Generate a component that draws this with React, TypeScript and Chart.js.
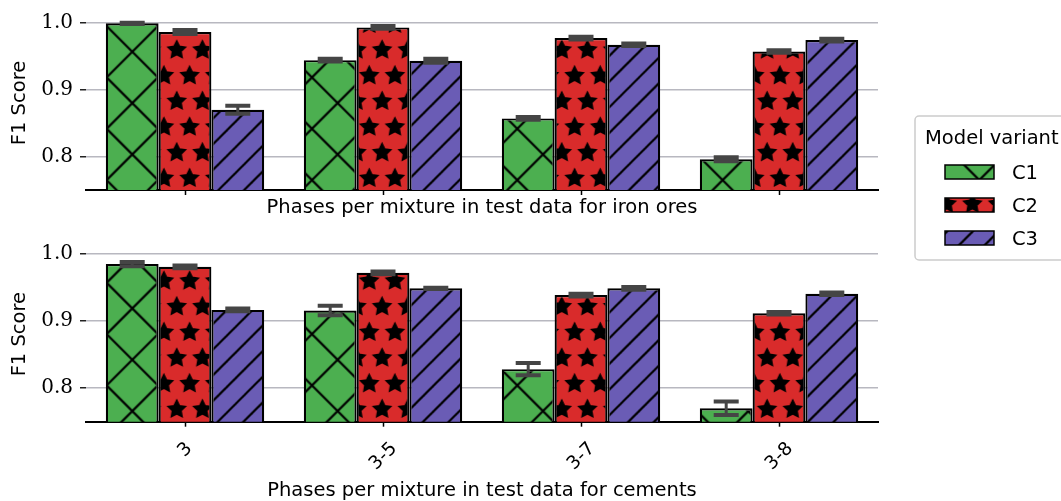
import React, { useEffect, useRef } from 'react';
import { Chart, registerables } from 'chart.js';

Chart.register(...registerables);

// ---------------- data ----------------
const categories = ['3', '3-5', '3-7', '3-8'];
const seriesNames = ['C1', 'C2', 'C3'];

const ironC1 = [0.999, 0.944, 0.857, 0.796];
const ironC1Err = [0.001, 0.002, 0.002, 0.003];
const ironC2 = [0.986, 0.993, 0.977, 0.957];
const ironC2Err = [0.003, 0.002, 0.002, 0.002];
const ironC3 = [0.870, 0.943, 0.967, 0.974];
const ironC3Err = [0.006, 0.003, 0.002, 0.002];

const cementC1 = [0.984, 0.915, 0.828, 0.770];
const cementC1Err = [0.003, 0.007, 0.009, 0.010];
const cementC2 = [0.980, 0.971, 0.938, 0.911];
const cementC2Err = [0.002, 0.002, 0.002, 0.002];
const cementC3 = [0.916, 0.948, 0.948, 0.940];
const cementC3Err = [0.002, 0.001, 0.002, 0.002];

const yTicks = [0.8, 0.9, 1.0];
const yMin = 0.75;
const yMax = 1.01;

const topTitle = 'Phases per mixture in test data for iron ores';
const bottomTitle = 'Phases per mixture in test data for cements';
const yTitle = 'F1 Score';
const legendTitle = 'Model variant';

// ---------------- styles ----------------
const SANS = "'DejaVu Sans', sans-serif";
const SERIF = "'DejaVu Serif', serif";
const GREEN = '#4caf50';
const RED = '#d92b2b';
const PURPLE = '#6a5cb5';
const CELL = 154;
const HATCH_LW = 2.2;

function makeTile(draw: (g: CanvasRenderingContext2D) => void) {
  const c = document.createElement('canvas');
  c.width = CELL;
  c.height = CELL;
  const g = c.getContext('2d') as CanvasRenderingContext2D;
  draw(g);
  return c;
}

function makePatterns(ctx: CanvasRenderingContext2D) {
  const cross = makeTile((g) => {
    g.fillStyle = GREEN;
    g.fillRect(0, 0, CELL, CELL);
    g.strokeStyle = '#000';
    g.lineWidth = HATCH_LW;
    const s = CELL / 3;
    g.beginPath();
    for (let k = -1; k <= 7; k++) {
      const c = k * s;
      g.moveTo(c + 10, -10);
      g.lineTo(c - CELL - 10, CELL + 10);
    }
    for (let k = -4; k <= 4; k++) {
      const c = k * s;
      g.moveTo(-10, c - 10);
      g.lineTo(CELL + 10, c + CELL + 10);
    }
    g.stroke();
  });
  const slash = makeTile((g) => {
    g.fillStyle = PURPLE;
    g.fillRect(0, 0, CELL, CELL);
    g.strokeStyle = '#000';
    g.lineWidth = HATCH_LW;
    const s = CELL / 6;
    g.beginPath();
    for (let k = -1; k <= 13; k++) {
      const c = k * s;
      g.moveTo(c + 10, -10);
      g.lineTo(c - CELL - 10, CELL + 10);
    }
    g.stroke();
  });
  const stars = makeTile((g) => {
    g.fillStyle = RED;
    g.fillRect(0, 0, CELL, CELL);
    g.fillStyle = '#000';
    g.strokeStyle = '#000';
    g.lineWidth = 2;
    g.lineJoin = 'miter';
    const n = 6;
    const s = CELL / n;
    const R = s / 3;
    const r = R * 0.5;
    const star = (cx: number, cy: number) => {
      g.beginPath();
      for (let i = 0; i < 10; i++) {
        const a = -Math.PI / 2 + (i * Math.PI) / 5;
        const rad = i % 2 === 0 ? R : r;
        const px = cx + rad * Math.cos(a);
        const py = cy + rad * Math.sin(a);
        if (i === 0) g.moveTo(px, py);
        else g.lineTo(px, py);
      }
      g.closePath();
      g.fill();
      g.stroke();
    };
    for (let row = 0; row <= n; row++) {
      const y = row * s;
      if (row % 2 === 0) {
        for (let c = 0; c <= n; c++) star(c * s, y);
      } else {
        for (let c = 0; c < n; c++) star(s / 2 + c * s, y);
      }
    }
  });
  const mk = (tile: HTMLCanvasElement, tx: number, ty: number) => {
    const p = ctx.createPattern(tile, 'repeat') as CanvasPattern;
    p.setTransform(new DOMMatrix([1, 0, 0, 1, tx, ty]));
    return p;
  };
  return [mk(cross, 132.3, 51.7), mk(stars, 176.7, 50), mk(slash, 23.5, 0)];
}

const errorBarPlugin = {
  id: 'errorBars',
  afterDatasetsDraw(chart: any) {
    const ctx = chart.ctx as CanvasRenderingContext2D;
    const y = chart.scales.y;
    chart.data.datasets.forEach((ds: any, i: number) => {
      const meta = chart.getDatasetMeta(i);
      meta.data.forEach((bar: any, j: number) => {
        const v = ds.data[j];
        const e = ds.errors[j];
        const yT = y.getPixelForValue(v + e);
        const yB = y.getPixelForValue(v - e);
        ctx.save();
        ctx.strokeStyle = '#454545';
        ctx.lineWidth = 3;
        ctx.beginPath();
        ctx.moveTo(bar.x, yT);
        ctx.lineTo(bar.x, yB);
        ctx.stroke();
        ctx.lineWidth = 4;
        ctx.beginPath();
        ctx.moveTo(bar.x - 12.5, yT);
        ctx.lineTo(bar.x + 12.5, yT);
        ctx.moveTo(bar.x - 12.5, yB);
        ctx.lineTo(bar.x + 12.5, yB);
        ctx.stroke();
        ctx.restore();
      });
    });
  },
};

const rotatedLabelsPlugin = {
  id: 'rotatedLabels',
  afterDraw(chart: any) {
    const ctx = chart.ctx as CanvasRenderingContext2D;
    const xs = chart.scales.x;
    const fs = 18.5;
    ctx.save();
    ctx.font = `${fs}px ${SANS}`;
    ctx.fillStyle = '#000';
    ctx.textAlign = 'center';
    ctx.textBaseline = 'alphabetic';
    categories.forEach((lab, i) => {
      const x = xs.getPixelForTick(i);
      const w = ctx.measureText(lab).width;
      const h = 0.73 * fs;
      const cy = xs.top + 18 + (w + h) / (2 * Math.SQRT2);
      ctx.save();
      ctx.translate(x - 1, cy);
      ctx.rotate(-Math.PI / 4);
      ctx.fillText(lab, 0, h / 2);
      ctx.restore();
    });
    ctx.restore();
  },
};

const legendPlugin = {
  id: 'customLegend',
  afterDraw(chart: any) {
    const ctx = chart.ctx as CanvasRenderingContext2D;
    const left = chart.chartArea.right + 37;
    const top = 116;
    const bottom = 260;
    const right = 1075;
    ctx.save();
    ctx.beginPath();
    const rr = 4;
    ctx.moveTo(left + rr, top);
    ctx.lineTo(right, top);
    ctx.lineTo(right, bottom);
    ctx.lineTo(left + rr, bottom);
    ctx.arcTo(left, bottom, left, bottom - rr, rr);
    ctx.lineTo(left, top + rr);
    ctx.arcTo(left, top, left + rr, top, rr);
    ctx.closePath();
    ctx.fillStyle = 'rgba(255,255,255,0.8)';
    ctx.fill();
    ctx.strokeStyle = '#cccccc';
    ctx.lineWidth = 1.5;
    ctx.stroke();

    const fs = 19.5;
    const capH = 0.73 * fs;
    ctx.font = `${fs}px ${SANS}`;
    ctx.fillStyle = '#000';
    ctx.textAlign = 'left';
    ctx.textBaseline = 'alphabetic';
    ctx.fillText(legendTitle, left + 10, 137 + capH / 2);
    const rows = [172, 205, 238];
    chart.data.datasets.forEach((ds: any, i: number) => {
      const cy = rows[i];
      ctx.fillStyle = ds.backgroundColor;
      ctx.fillRect(left + 30, cy - 7, 49, 14);
      ctx.strokeStyle = '#000';
      ctx.lineWidth = 1.5;
      ctx.strokeRect(left + 30, cy - 7, 49, 14);
      ctx.fillStyle = '#000';
      ctx.fillText(ds.label, left + 97, cy + capH / 2);
    });
    ctx.restore();
  },
};

function buildConfig(
  values: number[][],
  errors: number[][],
  patterns: CanvasPattern[],
  title: string,
  padTop: number,
  padBottom: number,
  axisH: number,
  titlePadBottom: number,
  plugins: any[]
): any {
  return {
    type: 'bar',
    data: {
      labels: categories,
      datasets: seriesNames.map((name, i) => ({
        label: name,
        data: values[i],
        errors: errors[i],
        backgroundColor: patterns[i],
        borderColor: '#000',
        borderWidth: 2.2,
        borderSkipped: false,
        categoryPercentage: 0.8,
        barPercentage: 1.0,
        clip: 0,
      })),
    },
    plugins,
    options: {
      responsive: false,
      animation: false,
      devicePixelRatio: 1,
      events: [],
      layout: { padding: { top: padTop, left: 0, right: 183, bottom: padBottom } },
      plugins: { legend: { display: false }, tooltip: { enabled: false } },
      scales: {
        x: {
          type: 'category',
          offset: true,
          z: 1,
          grid: {
            offset: false,
            drawOnChartArea: false,
            drawTicks: true,
            tickLength: 5,
            tickColor: '#000',
            tickWidth: 1.5,
          },
          border: { display: true, color: '#000', width: 2 },
          ticks: { display: false },
          title: {
            display: true,
            text: title,
            color: '#000',
            font: { family: SANS, size: 19.5 },
            padding: { top: 0, bottom: titlePadBottom },
          },
          afterFit: (s: any) => {
            s.height = axisH;
            s.paddingLeft = 0;
            s.paddingRight = 0;
          },
        },
        y: {
          type: 'linear',
          min: yMin,
          max: yMax,
          afterBuildTicks: (s: any) => {
            s.ticks = yTicks.map((v) => ({ value: v }));
          },
          grid: {
            color: '#b8b8c0',
            lineWidth: 1.5,
            drawTicks: true,
            tickLength: 6,
            tickColor: '#222',
            tickWidth: 1.5,
          },
          border: { display: false },
          ticks: {
            color: '#000',
            padding: 7,
            font: { family: SERIF, size: 20 },
            callback: (v: any) => Number(v).toFixed(1),
          },
          title: {
            display: true,
            text: yTitle,
            color: '#000',
            font: { family: SANS, size: 19.5 },
            padding: { top: 8.3, bottom: 0 },
          },
          afterFit: (s: any) => {
            s.width = 86;
            s.paddingTop = 0;
            s.paddingBottom = 0;
          },
        },
      },
    },
  };
}

export default function App() {
  const topRef = useRef<HTMLCanvasElement>(null);
  const botRef = useRef<HTMLCanvasElement>(null);

  useEffect(() => {
    const tc = topRef.current as HTMLCanvasElement;
    const bc = botRef.current as HTMLCanvasElement;
    const tctx = tc.getContext('2d') as CanvasRenderingContext2D;
    const bctx = bc.getContext('2d') as CanvasRenderingContext2D;
    const topChart = new Chart(
      tctx,
      buildConfig(
        [ironC1, ironC2, ironC3],
        [ironC1Err, ironC2Err, ironC3Err],
        makePatterns(tctx),
        topTitle,
        16,
        501 - 190 - 29.7,
        29.7,
        0,
        [errorBarPlugin]
      )
    );
    const botChart = new Chart(
      bctx,
      buildConfig(
        [cementC1, cementC2, cementC3],
        [cementC1Err, cementC2Err, cementC3Err],
        makePatterns(bctx),
        bottomTitle,
        246.6,
        0,
        501 - 421.7,
        -1.7,
        [errorBarPlugin, rotatedLabelsPlugin, legendPlugin]
      )
    );
    return () => {
      topChart.destroy();
      botChart.destroy();
    };
  }, []);

  return (
    <div style={{ position: 'fixed', left: 0, top: 0, width: 1061, height: 501, background: '#fff' }}>
      <canvas ref={topRef} width={1061} height={501} style={{ position: 'absolute', left: 0, top: 0 }} />
      <canvas ref={botRef} width={1061} height={501} style={{ position: 'absolute', left: 0, top: 0 }} />
    </div>
  );
}
